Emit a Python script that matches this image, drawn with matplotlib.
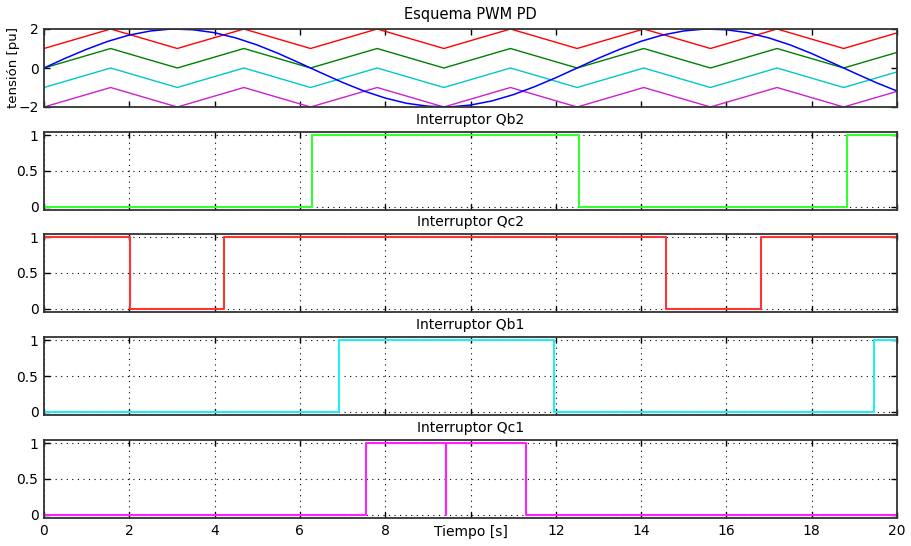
import matplotlib
matplotlib.use("Agg")
import matplotlib.pyplot as plt

plt.rcParams['font.family'] = ['DejaVu Sans']

t_mod = [i * 0.5 for i in range(41)]
v_mod = [0.00, 0.50, 0.96, 1.37, 1.69, 1.90, 2.00, 1.96, 1.81, 1.54,
         1.18, 0.74, 0.25, -0.25, -0.74, -1.18, -1.54, -1.81, -1.96, -2.00,
         -1.90, -1.69, -1.37, -0.96, -0.50, 0.00, 0.50, 0.96, 1.37, 1.69,
         1.90, 2.00, 1.96, 1.81, 1.54, 1.18, 0.74, 0.25, -0.25, -0.74, -1.18]

# portadoras triangulares (vertices)
t_car = [0, 1.5625, 3.125, 4.6875, 6.25, 7.8125, 9.375, 10.9375,
         12.5, 14.0625, 15.625, 17.1875, 18.75, 20]
tri = [0, 1, 0, 1, 0, 1, 0, 1, 0, 1, 0, 1, 0, 0.8]
car_offset = [1, 0, -1, -2]
car_color = ['#ff0000', '#008000', '#00c8c8', '#cc22cc']

# interruptores: estado inicial y tiempos de conmutacion
sw_names = ['Qb2', 'Qc2', 'Qb1', 'Qc1']
sw_init = [0, 1, 0, 0]
sw_toggle = [[6.28, 12.55, 18.83],
             [2.02, 4.23, 14.58, 16.80],
             [6.92, 11.96, 19.46],
             [7.56, 9.42, 9.43, 11.30]]
sw_color = ['#33ff33', '#ff3333', '#22eeee', '#ff22ff']

t_end = 20
x_ticks = list(range(0, 21, 2))
# el 10 queda tapado por "Tiempo [s]" en la original
x_ticklabels = ['0', '2', '4', '6', '8', '', '12', '14', '16', '18', '20']


def step_xy(init, toggles):
    x, y = [0], [init]
    s = init
    for tt in toggles:
        x += [tt, tt]
        y += [s, 1 - s]
        s = 1 - s
    x.append(t_end)
    y.append(s)
    return x, y


def style_axes(ax):
    ax.tick_params(direction='in', top=True, right=True, length=4, width=1,
                   labelsize=10, pad=4)
    for sp in ax.spines.values():
        sp.set_linewidth(1.3)
        sp.set_color('#333333')
    ax.set_xlim(0, t_end)
    ax.set_xticks(x_ticks)


fig = plt.figure(figsize=(9.11, 5.46), dpi=100)
W, H = 911.0, 546.0
left, right = 44, 897
tops = [29, 132, 234, 337, 440]
hgt = 78

axs = []
for tp in tops:
    ax = fig.add_axes([left / W, 1 - (tp + hgt) / H, (right - left) / W, hgt / H])
    axs.append(ax)

# panel superior
ax = axs[0]
for off, col in zip(car_offset, car_color):
    ax.plot(t_car, [v + off for v in tri], color=col, lw=1)
ax.plot(t_mod, v_mod, color='#0000ff', lw=1.1)
style_axes(ax)
ax.set_ylim(-2, 2)
ax.set_yticks([-2, 0, 2])
ax.set_xticklabels([])
ax.set_title('Esquema PWM PD', fontsize=10.5, pad=7)
ax.set_ylabel('tensión [pu]', fontsize=9.5)
ax.yaxis.set_label_coords(-0.028, 0.5)

for i in range(4):
    ax = axs[i + 1]
    x, y = step_xy(sw_init[i], sw_toggle[i])
    ax.plot(x, y, color=sw_color[i], lw=1.5)
    style_axes(ax)
    ax.set_ylim(-0.042, 1.042)
    ax.set_yticks([0, 0.5, 1])
    ax.set_yticklabels(['0', '0.5', '1'])
    ax.grid(True, color='black', lw=0.8, linestyle=(0, (1, 4)))
    ax.set_title('Interruptor ' + sw_names[i], fontsize=10, pad=6)
    if i < 3:
        ax.set_xticklabels([])
    else:
        ax.set_xticklabels(x_ticklabels)

axs[-1].set_xlabel('Tiempo [s]', fontsize=10)
axs[-1].xaxis.set_label_coords(0.5, -0.085)

fig.savefig('out.png', dpi=100)
